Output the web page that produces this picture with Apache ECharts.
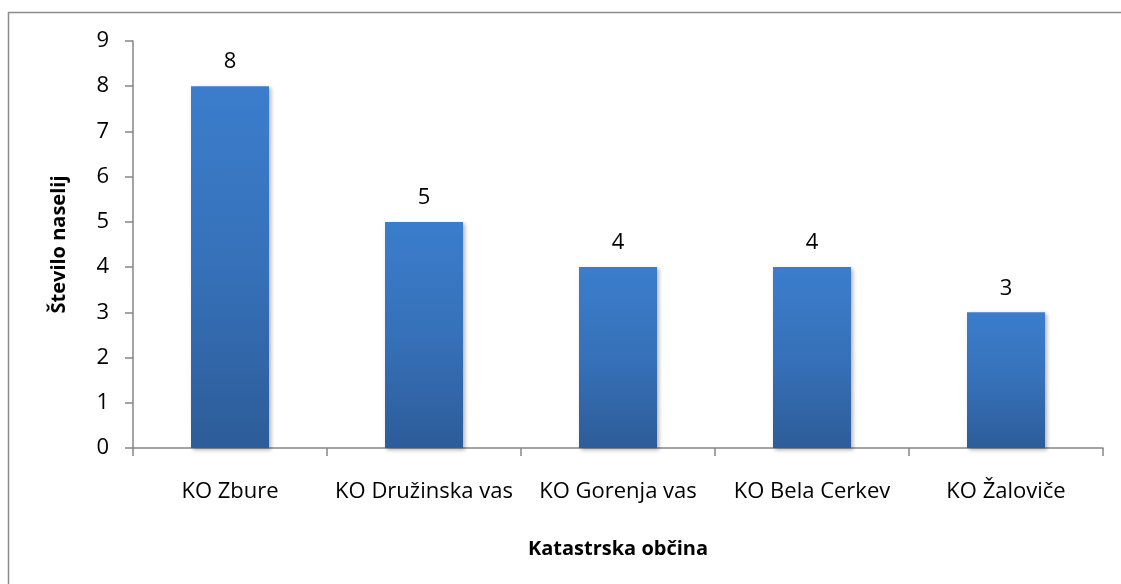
<!DOCTYPE html>
<html>
<head>
<meta charset="utf-8">
<script src="https://cdn.jsdelivr.net/npm/echarts@6/dist/echarts.min.js"></script>
<style>
  html, body { margin: 0; padding: 0; background: #fff; }
  #main { width: 1121px; height: 584px; }
</style>
</head>
<body>
<div id="main"></div>
<script>
// podatki
var categories = ['KO Zbure', 'KO Družinska vas', 'KO Gorenja vas', 'KO Bela Cerkev', 'KO Žaloviče'];
var values = [8, 5, 4, 4, 3];
var yTicks = [0, 1, 2, 3, 4, 5, 6, 7, 8, 9];

var chart = echarts.init(document.getElementById('main'));
var font = '"Open Sans", "DejaVu Sans", sans-serif';

var option = {
  animation: false,
  backgroundColor: '#fff',
  graphic: [{
    type: 'rect',
    shape: { x: 8.5, y: 12.5, width: 1130, height: 600 },
    style: { fill: 'none', stroke: '#8c8c8c', lineWidth: 1.5 },
    silent: true
  }],
  grid: {
    left: 133,
    right: 18,
    top: 41,
    bottom: 136
  },
  xAxis: {
    type: 'category',
    data: categories,
    name: 'Katastrska občina',
    nameLocation: 'middle',
    nameGap: 91,
    nameTextStyle: { fontFamily: font, fontSize: 20, fontWeight: 'bold', color: '#000' },
    axisLine: { lineStyle: { color: '#868686', width: 1.5 } },
    axisTick: { show: true, length: 8, lineStyle: { color: '#868686', width: 1.5 } },
    axisLabel: { fontFamily: font, fontSize: 22, color: '#000', margin: 33, interval: 0 }
  },
  yAxis: {
    type: 'value',
    min: yTicks[0],
    max: yTicks[yTicks.length - 1],
    interval: 1,
    name: 'Število naselij',
    nameLocation: 'middle',
    nameGap: 64,
    nameTextStyle: { fontFamily: font, fontSize: 20, fontWeight: 'bold', color: '#000' },
    axisLine: { show: true, lineStyle: { color: '#868686', width: 1.5 } },
    axisTick: { show: true, length: 8, lineStyle: { color: '#868686', width: 1.5 } },
    splitLine: { show: false },
    axisLabel: { fontFamily: font, fontSize: 22, color: '#000', margin: 24 }
  },
  series: [{
    type: 'bar',
    data: values,
    barWidth: 78,
    label: {
      show: true,
      position: 'top',
      distance: 13,
      fontFamily: font,
      fontSize: 22,
      color: '#000'
    },
    itemStyle: {
      color: new echarts.graphic.LinearGradient(0, 0, 0, 1, [
        { offset: 0, color: '#3b7dcc' },
        { offset: 0.5, color: '#3671b9' },
        { offset: 1, color: '#2d5c99' }
      ]),
      shadowColor: 'rgba(0,0,0,0.3)',
      shadowBlur: 4,
      shadowOffsetX: 2,
      shadowOffsetY: 2
    }
  }]
};

chart.setOption(option);
</script>
</body>
</html>
